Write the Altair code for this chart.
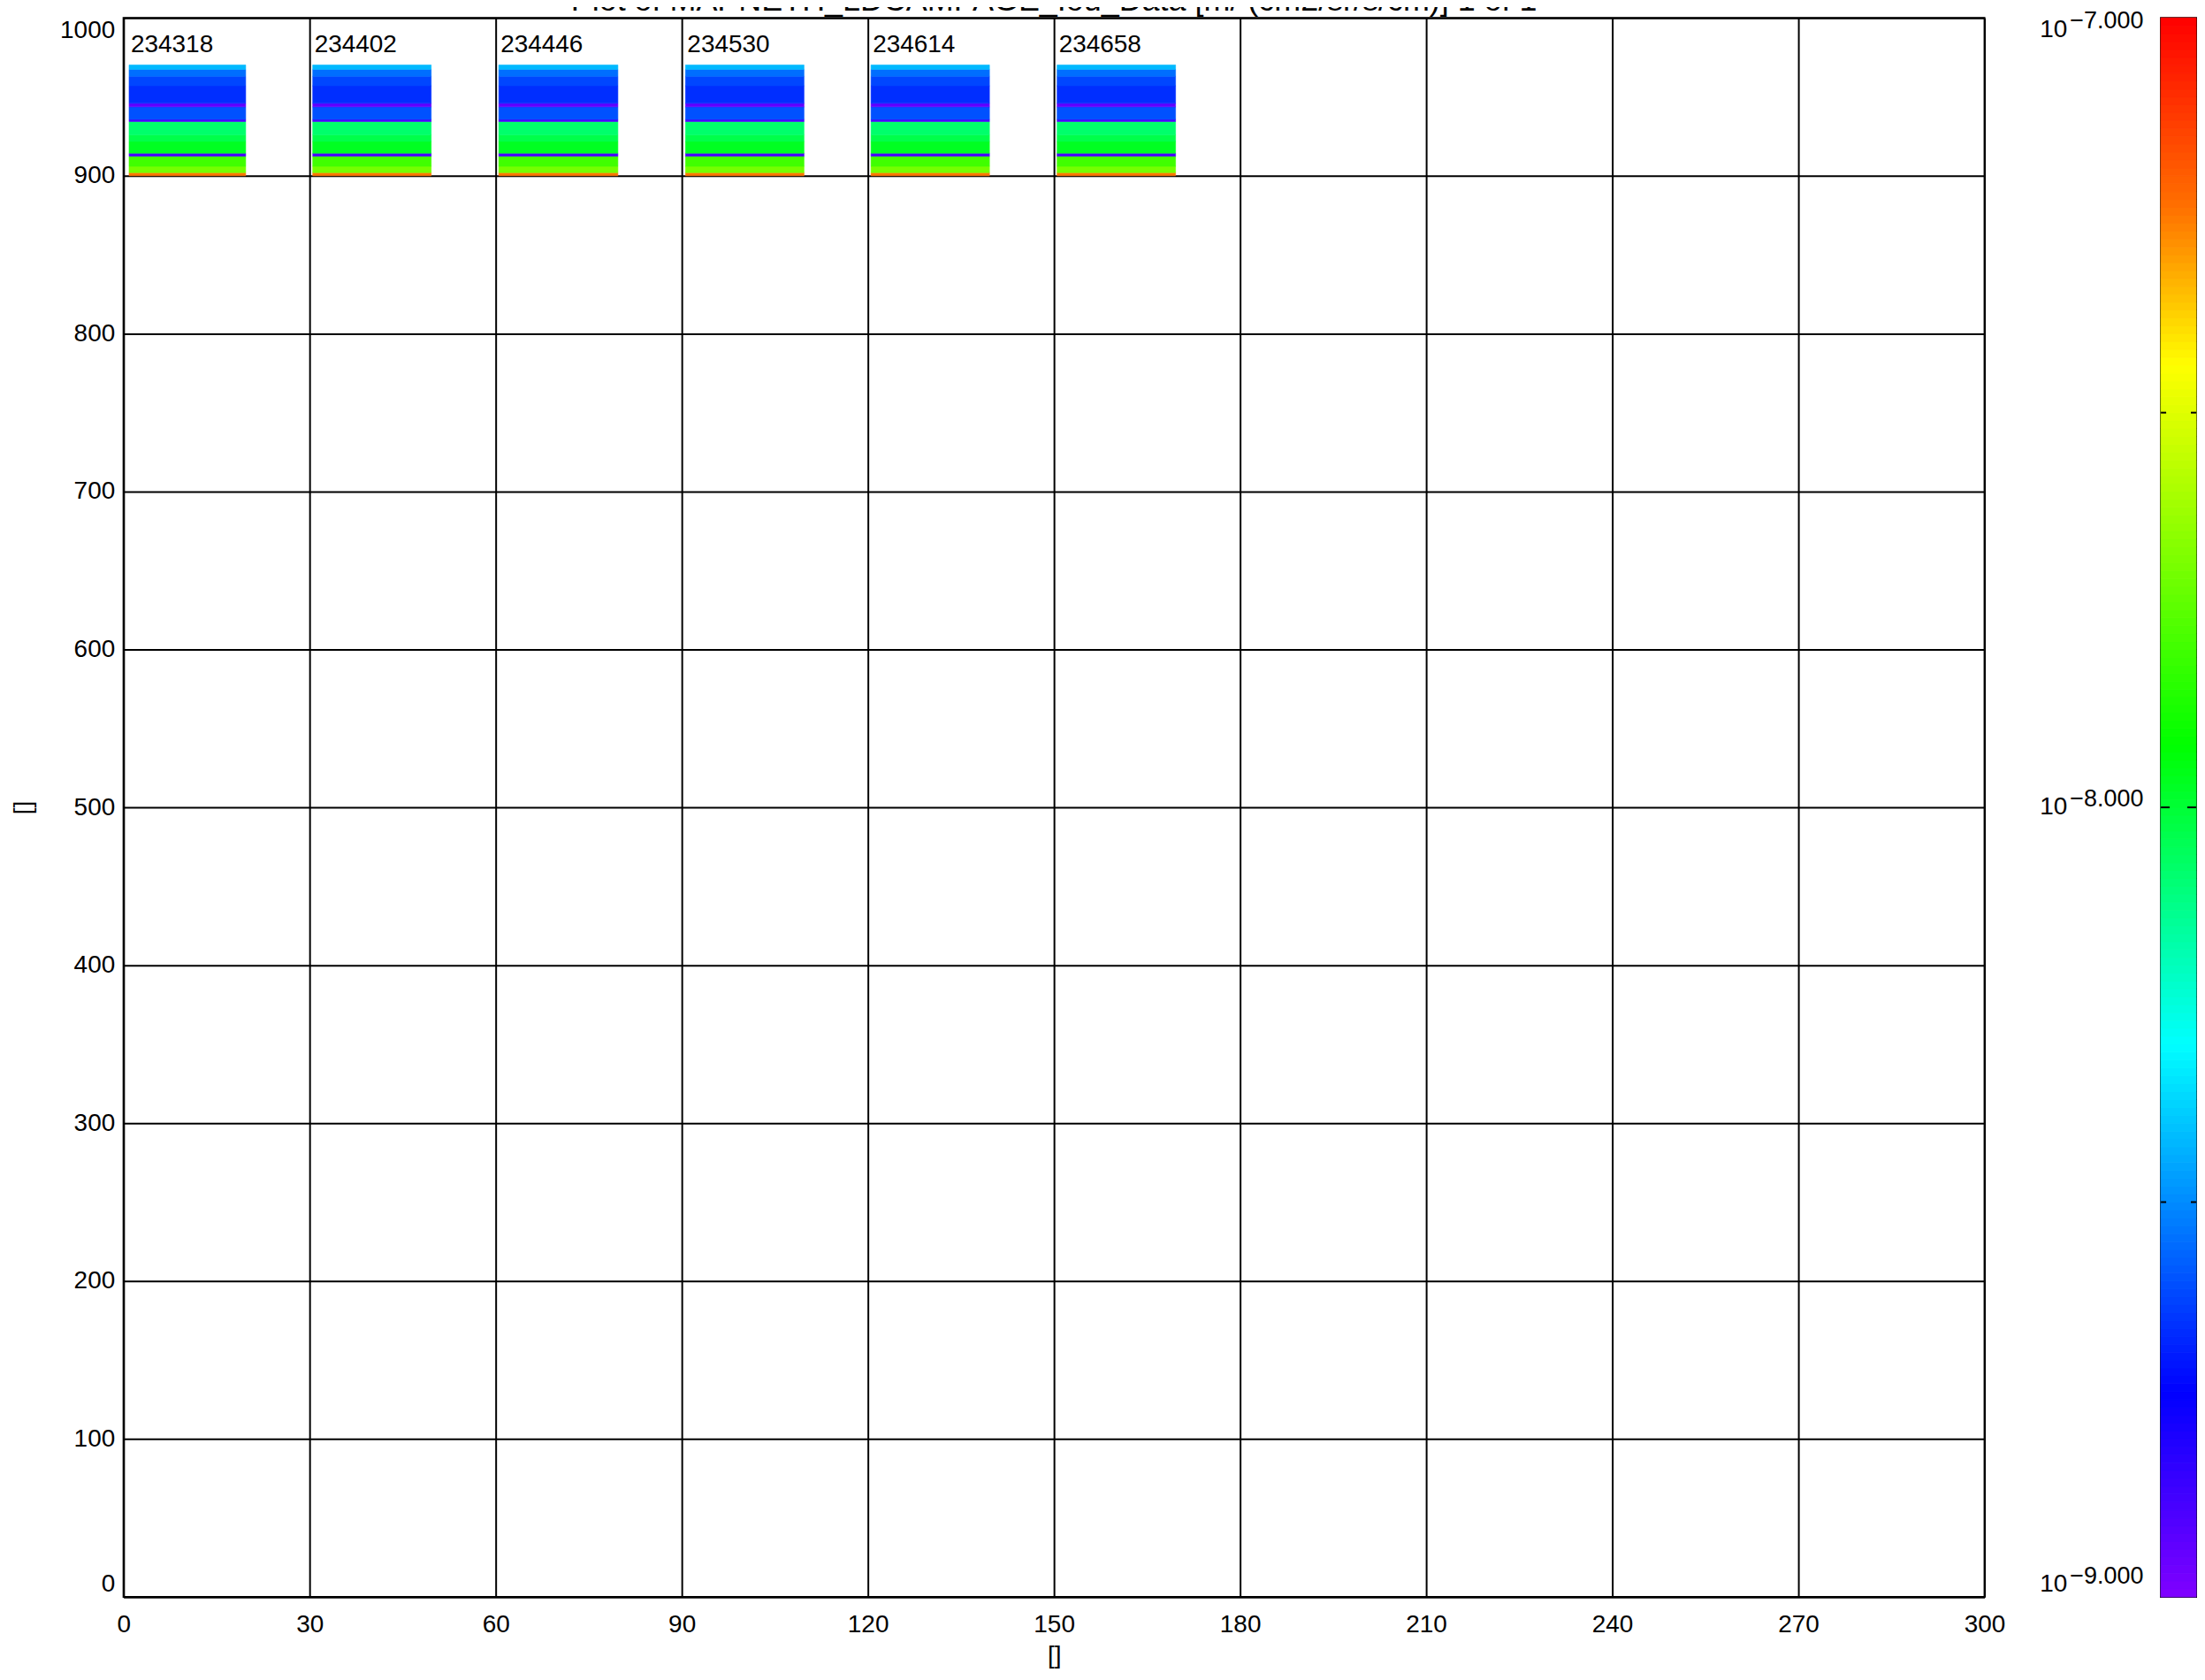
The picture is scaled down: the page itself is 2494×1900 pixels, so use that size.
import altair as alt
import pandas as pd
import numpy as np

FONT = "Liberation Sans"

# ---- data ----
panel_labels = ["234318", "234402", "234446", "234530", "234614", "234658"]
panel_x_start = [0.9, 30.5, 60.5, 90.6, 120.5, 150.5]
panel_x_end = [19.7, 49.6, 79.7, 109.7, 139.6, 169.6]
label_y = 983

# energy-channel rows of each spectrogram strip (same for every panel)
row_lo = [900.0, 902.0, 906.0, 912.4, 914.3, 921.8, 926.0, 934.4, 935.7, 943.7, 945.9, 957.0, 963.0, 967.4]
row_hi = [902.0, 906.0, 912.4, 914.3, 921.8, 926.0, 934.4, 935.7, 943.7, 945.9, 957.0, 963.0, 967.4, 970.2]
row_log_flux = [-7.25, -7.70, -7.80, -8.88, -7.97, -8.03, -8.08, -8.90, -8.60, -8.94, -8.66, -8.62, -8.55, -8.42]

# colour table (log10 flux -> colour)
cb_stops = [-9.0, -8.74, -8.30, -7.92, -7.44, -7.24, -7.0]
cb_colors = ["#8000ff", "#0000ff", "#00ffff", "#00ff00", "#ffff00", "#ff7000", "#ff0000"]
cb_label_values = [-7.0, -8.0, -9.0]
cb_label_baselines = ["top", "middle", "bottom"]
cb_minor_ticks = [-7.5, -8.5]
cb_major_ticks = [-8.0]

x_ticks = list(range(0, 301, 30))
y_ticks = list(range(0, 1001, 100))

title_text = "Plot of MAPNETH_LDCAMPAGE_Iou_Data [m/ (cm2/sr/s/cm)]  1 of 1"

# ---- tables ----
cells = []
for lab, xs, xe in zip(panel_labels, panel_x_start, panel_x_end):
    for lo, hi, v in zip(row_lo, row_hi, row_log_flux):
        cells.append({"panel": lab, "x0": xs, "x1": xe, "y0": lo, "y1": hi, "v": v})
cells_df = pd.DataFrame(cells)
labels_df = pd.DataFrame({"label": panel_labels, "x": panel_x_start, "y": [label_y] * len(panel_labels)})

color_scale = alt.Scale(domain=cb_stops, range=cb_colors, interpolate="rgb", clamp=True)

x_axis = alt.Axis(values=x_ticks, title="[]", format="d", grid=True, gridColor="black", gridWidth=2,
                  gridOpacity=1, domainColor="black", domainWidth=2, tickSize=0, labelFontSize=28,
                  labelColor="black", labelPadding=18, labelFont=FONT, titleFont=FONT, titleFontSize=28,
                  titleFontWeight="normal", titleColor="black", titlePadding=7, labelFlush=False)
y_axis = alt.Axis(values=y_ticks, title="[]", format="d", grid=True, gridColor="black", gridWidth=2,
                  gridOpacity=1, domainColor="black", domainWidth=2, tickSize=0, labelFontSize=28,
                  labelColor="black", labelPadding=10, labelFont=FONT, titleFont=FONT, titleFontSize=28,
                  titleFontWeight="normal", titleColor="black", titlePadding=27, labelFlush=True)

xscale = alt.Scale(domain=[0, 300], nice=False, zero=False)
yscale = alt.Scale(domain=[0, 1000], nice=False, zero=False)

heat = alt.Chart(cells_df).mark_rect(strokeWidth=0.6).encode(
    x=alt.X("x0:Q", scale=xscale, axis=x_axis),
    x2="x1:Q",
    y=alt.Y("y0:Q", scale=yscale, axis=y_axis),
    y2="y1:Q",
    color=alt.Color("v:Q", scale=color_scale, legend=None),
    stroke=alt.Stroke("v:Q", scale=color_scale, legend=None),
)

texts = alt.Chart(labels_df).mark_text(align="left", baseline="middle", fontSize=28, font=FONT,
                                       color="black", dx=2).encode(
    x=alt.X("x:Q", scale=xscale),
    y=alt.Y("y:Q", scale=yscale),
    text="label:N",
)

main = alt.layer(heat, texts).properties(
    width=2110, height=1790,
    title=alt.TitleParams(title_text, fontSize=36, font=FONT, fontWeight="normal", color="black",
                          anchor="middle", offset=0),
)

# ---- colour bar ----
edges = np.linspace(-9.0, -7.0, 201)
ramp_df = pd.DataFrame({"lo": edges[:-1], "hi": edges[1:], "mid": (edges[:-1] + edges[1:]) / 2})
cbscale = alt.Scale(domain=[-9.0, -7.0], nice=False, zero=False)

ramp = alt.Chart(ramp_df).mark_rect(strokeWidth=1).encode(
    x=alt.value(0), x2=alt.value(40),
    y=alt.Y("lo:Q", scale=cbscale, axis=None), y2="hi:Q",
    color=alt.Color("mid:Q", scale=color_scale, legend=None),
    stroke=alt.Stroke("mid:Q", scale=color_scale, legend=None),
)

tick_layers = []
for vals, ln in ((cb_minor_ticks, 6), (cb_major_ticks, 10)):
    tdf = pd.DataFrame({"v": vals})
    tick_layers.append(alt.Chart(tdf).mark_rule(color="black", strokeWidth=2).encode(
        y=alt.Y("v:Q", scale=cbscale), x=alt.value(0), x2=alt.value(ln)))
    tick_layers.append(alt.Chart(tdf).mark_rule(color="black", strokeWidth=2).encode(
        y=alt.Y("v:Q", scale=cbscale), x=alt.value(40 - ln), x2=alt.value(40)))

label_layers = []
for v, bl in zip(cb_label_values, cb_label_baselines):
    ldf = pd.DataFrame({"v": [v], "base": ["10"], "exp": ["\u2212%.3f" % abs(v)]})
    label_layers.append(alt.Chart(ldf).mark_text(align="right", baseline=bl, fontSize=28, font=FONT,
                                                 color="black").encode(
        y=alt.Y("v:Q", scale=cbscale), x=alt.value(-106), text="base:N"))
    label_layers.append(alt.Chart(ldf).mark_text(align="left", baseline=bl, fontSize=27, font=FONT,
                                                 color="black", dy=-9).encode(
        y=alt.Y("v:Q", scale=cbscale), x=alt.value(-103), text="exp:N"))

cbar = alt.layer(ramp, *tick_layers, *label_layers).properties(width=40, height=1790)

chart = alt.hconcat(main, cbar, spacing=36).properties(
    padding={"left": 3, "top": -29, "right": 0, "bottom": 5}
).configure(font=FONT).configure_view(stroke="black", strokeWidth=2).configure_concat(spacing=36)

chart.save("out.html", embed_options={"renderer": "svg", "actions": False})
